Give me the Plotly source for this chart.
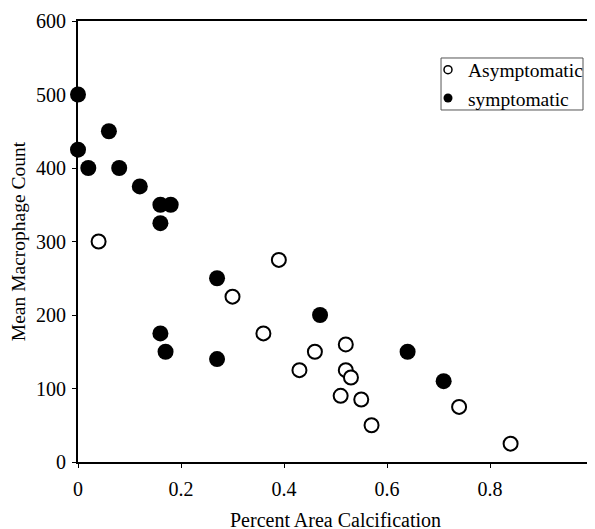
import plotly.graph_objects as go

asym_x = [0.04, 0.39, 0.30, 0.36, 0.43, 0.46, 0.52, 0.52, 0.53, 0.51, 0.55, 0.57, 0.74, 0.84]
asym_y = [300, 275, 225, 175, 125, 150, 160, 125, 115, 90, 85, 50, 75, 25]

sym_x = [0.0, 0.0, 0.02, 0.06, 0.08, 0.12, 0.16, 0.18, 0.16, 0.27, 0.16, 0.17, 0.27, 0.47, 0.64, 0.71]
sym_y = [500, 425, 400, 450, 400, 375, 350, 350, 325, 250, 175, 150, 140, 200, 150, 110]

x_ticks = [0, 0.2, 0.4, 0.6, 0.8, 1]
x_labels = ["0", "0.2", "0.4", "0.6", "0.8", "1"]
y_ticks = [0, 100, 200, 300, 400, 500, 600]

font = "Liberation Serif"

fig = go.Figure()
fig.add_trace(go.Scatter(
    x=asym_x, y=asym_y, mode="markers", name="Asymptomatic", showlegend=False,
    marker=dict(size=14, color="white", line=dict(color="black", width=2)),
    cliponaxis=False,
))
fig.add_trace(go.Scatter(
    x=sym_x, y=sym_y, mode="markers", name="symptomatic", showlegend=False,
    marker=dict(size=16, color="black", line=dict(color="black", width=0)),
    cliponaxis=False,
))
# legend-only entries with small symbols, as in the reference legend
fig.add_trace(go.Scatter(
    x=[None], y=[None], mode="markers", name="Asymptomatic",
    marker=dict(size=8, color="white", line=dict(color="black", width=1.5)),
))
fig.add_trace(go.Scatter(
    x=[None], y=[None], mode="markers", name="symptomatic",
    marker=dict(size=9, color="black"),
))

fig.update_layout(
    width=595, height=529,
    margin=dict(l=70, r=10, t=13, b=75, autoexpand=False),
    paper_bgcolor="white", plot_bgcolor="white",
    font=dict(family=font, size=18, color="black"),
    showlegend=True,
    legend=dict(
        x=0.6796, y=0.9331, xanchor="left", yanchor="top",
        bgcolor="rgba(0,0,0,0)", borderwidth=0,
        font=dict(family=font, size=19.5, color="black"),
        tracegroupgap=0, itemwidth=30,
    ),
    shapes=[dict(
        type="rect", xref="paper", yref="paper",
        x0=0.7049, x1=0.9806, y0=0.7982, y1=0.9161,
        line=dict(color="#555", width=1), fillcolor="rgba(0,0,0,0)", layer="below",
    )],
    xaxis=dict(
        range=[0, 1], tickvals=x_ticks, ticktext=x_labels,
        automargin=False,
        showgrid=False, zeroline=False,
        showline=True, linecolor="black", linewidth=2, mirror=True,
        ticks="outside", ticklen=4, tickcolor="black",
        ticklabelstandoff=4, ticklabeloverflow="allow",
        tickfont=dict(family=font, size=20),
        title=dict(text="Percent Area Calcification", font=dict(family=font, size=20), standoff=14),
    ),
    yaxis=dict(
        range=[0, 600], tickvals=y_ticks,
        automargin=False,
        showgrid=False, zeroline=False,
        showline=True, linecolor="black", linewidth=2, mirror=True,
        ticks="outside", ticklen=4, tickcolor="black",
        ticklabelstandoff=2, ticklabeloverflow="allow",
        tickfont=dict(family=font, size=20),
        title=dict(text="Mean Macrophage Count", font=dict(family=font, size=19.5), standoff=12),
    ),
)

fig.write_html("out.html")
